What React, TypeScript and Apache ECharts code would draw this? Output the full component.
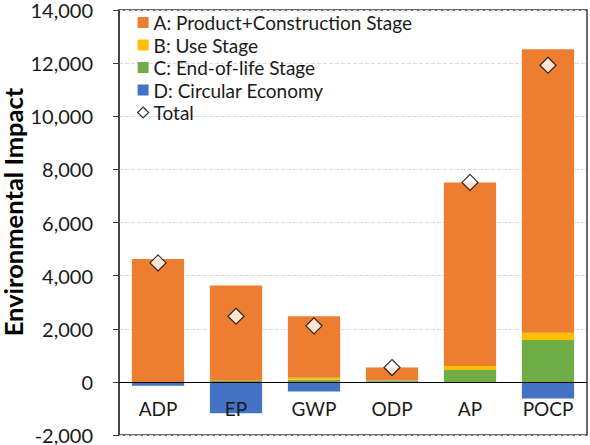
import React, { useEffect, useRef } from "react";
import * as echarts from "echarts";

const categories = ["ADP", "EP", "GWP", "ODP", "AP", "POCP"];
const stageA = [4630, 3590, 2310, 475, 6910, 10670];
const stageB = [0, 10, 80, 10, 150, 270];
const stageC = [0, 30, 80, 55, 450, 1580];
const stageD = [-150, -1180, -360, 0, 0, -630];
const totals = [4480, 2470, 2110, 540, 7510, 11920];
const yTicks = { min: -2000, max: 14000, interval: 2000 };

const names = {
  A: "A: Product+Construction Stage",
  B: "B: Use Stage",
  C: "C: End-of-life Stage",
  D: "D: Circular Economy",
  T: "Total",
};

const FONT = "Lato";

export default function App() {
  const ref = useRef<HTMLDivElement>(null);
  useEffect(() => {
    if (!ref.current) return;
    const chart = echarts.init(ref.current, null, { renderer: "svg" });
    const barCommon = {
      type: "bar" as const,
      stack: "total",
      barCategoryGap: "33%",
    };
    chart.setOption({
      animation: false,
      textStyle: { fontFamily: FONT },
      grid: {
        left: 119,
        right: 3,
        top: 7,
        bottom: 10,
        show: true,
        borderColor: "#3a3a3a",
        borderWidth: 1.5,
        containLabel: false,
      },
      legend: {
        orient: "vertical",
        left: 132,
        top: 8,
        itemWidth: 11,
        itemHeight: 11,
        itemGap: 3.5,
        data: [
          { name: names.A, icon: "rect" },
          { name: names.B, icon: "rect" },
          { name: names.C, icon: "rect" },
          { name: names.D, icon: "rect" },
          { name: names.T, icon: "diamond", itemStyle: { color: "#fff", borderColor: "#000", borderWidth: 1.2 } },
        ],
        textStyle: { fontFamily: FONT, fontSize: 19, lineHeight: 18, color: "#1a1a1a" },
      },
      xAxis: {
        type: "category",
        data: categories,
        z: 10,
        axisLine: { onZero: false, show: false },
        axisTick: { show: false },
        axisLabel: { fontFamily: FONT, fontSize: 19, color: "#1a1a1a", margin: -36 },
      },
      yAxis: {
        type: "value",
        min: yTicks.min,
        max: yTicks.max,
        interval: yTicks.interval,
        axisLine: { show: true, lineStyle: { color: "#3a3a3a", width: 1.5 } },
        axisTick: { show: true, length: 6, lineStyle: { color: "#3a3a3a" } },
        axisLabel: {
          fontFamily: FONT,
          fontSize: 20,
          color: "#1a1a1a",
          margin: 26,
          formatter: (v: number) => v.toLocaleString("en-US"),
        },
        splitLine: { show: true, lineStyle: { color: "#d9d9d9", type: "dashed", width: 1 } },
      },
      graphic: [
        {
          type: "text",
          x: 13,
          y: 212,
          rotation: Math.PI / 2,
          style: {
            text: "Environmental Impact",
            fontFamily: FONT,
            fontWeight: "bold",
            fontSize: 25.5,
            fill: "#000",
            textAlign: "center",
            textVerticalAlign: "middle",
          },
        },
      ],
      series: [
        { ...barCommon, name: names.C, data: stageC, itemStyle: { color: "#70AD47" } },
        { ...barCommon, name: names.B, data: stageB, itemStyle: { color: "#FFC000" } },
        { ...barCommon, name: names.A, data: stageA, itemStyle: { color: "#ED7D31" } },
        {
          ...barCommon,
          name: names.D,
          data: stageD,
          itemStyle: { color: "#4472C4" },
          markLine: {
            silent: true,
            symbol: "none",
            label: { show: false },
            lineStyle: { color: "#000", width: 1, type: "solid" },
            data: [{ yAxis: 0 }],
          },
        },
        {
          type: "scatter",
          name: names.T,
          data: totals,
          symbol: "diamond",
          symbolSize: 16,
          itemStyle: { color: "#fff", borderColor: "#000", borderWidth: 1.2 },
          z: 5,
        },
      ],
    });
    return () => chart.dispose();
  }, []);
  return <div ref={ref} style={{ width: 590, height: 445, position: "absolute", left: 0, top: 0 }} />;
}
